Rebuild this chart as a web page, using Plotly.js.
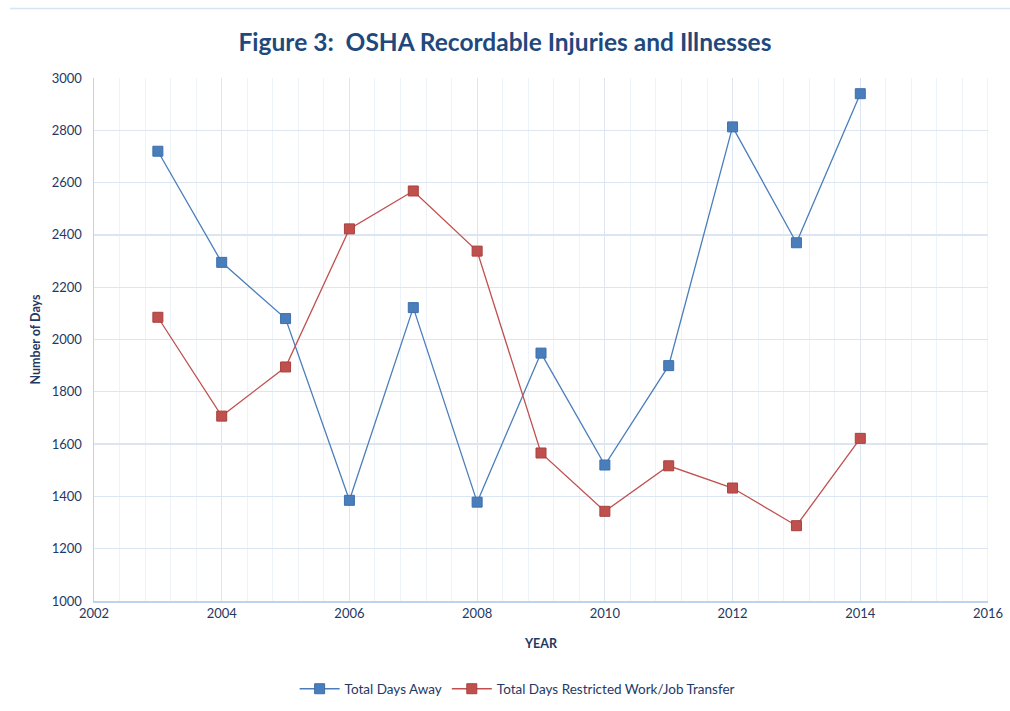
<!DOCTYPE html>
<html>
<head>
<meta charset="utf-8">
<script src="https://cdn.plot.ly/plotly-3.0.1.min.js"></script>
<style>html,body{margin:0;padding:0;background:#fff;}#chart{width:1010px;height:711px;}</style>
</head>
<body>
<div id="chart"></div>
<script>
const years = [2003, 2004, 2005, 2006, 2007, 2008, 2009, 2010, 2011, 2012, 2013, 2014];
const daysAway = [2720, 2295, 2080, 1385, 2122, 1378, 1948, 1520, 1900, 2813, 2370, 2940];
const daysRestricted = [2085, 1707, 1895, 2423, 2568, 2338, 1566, 1343, 1517, 1432, 1288, 1622];
const seriesNames = ["Total Days Away", "Total Days Restricted Work/Job Transfer"];

const navy = '#1f3864';
const font = "Lato, 'Open Sans', 'Liberation Sans', sans-serif";

const traces = [
  {x: years, y: daysAway, name: seriesNames[0], type: 'scatter', mode: 'lines+markers',
   line: {color: '#4a7ebb', width: 1.3},
   marker: {symbol: 'square', size: 10, color: '#4a7ebb', line: {color: '#3d6fae', width: 1}}},
  {x: years, y: daysRestricted, name: seriesNames[1], type: 'scatter', mode: 'lines+markers',
   line: {color: '#c0504d', width: 1.3},
   marker: {symbol: 'square', size: 10, color: '#c0504d', line: {color: '#a8403d', width: 1}}}
];

const layout = {
  width: 1010, height: 711,
  margin: {l: 94, r: 22, t: 78, b: 110},
  paper_bgcolor: '#fff', plot_bgcolor: '#fff',
  font: {family: font, color: navy, size: 13},
  title: {text: '<b>Figure 3:  OSHA Recordable Injuries and Illnesses</b>',
          font: {family: font, size: 24.5, color: '#1f497d'},
          x: 0.5, xanchor: 'center', y: 0.941, yanchor: 'middle'},
  xaxis: {range: [2002, 2016], dtick: 2, tick0: 2002, showgrid: true, automargin: false,
          gridcolor: '#dce6f2', gridwidth: 1,
          minor: {dtick: 0.4, tick0: 2002, showgrid: true, gridcolor: '#eef3fa', gridwidth: 1},
          showline: true, linecolor: '#bcd3ee', linewidth: 1.5, mirror: false,
          zeroline: false, ticks: '', tickfont: {size: 13, color: navy},
          title: {text: '<b>YEAR</b>', font: {size: 12.5, color: navy}, standoff: 19}},
  yaxis: {range: [1000, 3000], dtick: 200, showgrid: true, gridcolor: '#dce6f2', gridwidth: 1.3,
          showline: true, linecolor: '#bcd3ee', linewidth: 1.5, automargin: false,
          zeroline: false, ticks: '', ticklabelstandoff: 8, tickfont: {size: 13, color: navy},
          title: {text: '<b>Number of Days</b>', font: {size: 12.5, color: navy}, standoff: 8}},
  shapes: [
    {type: 'line', xref: 'x', yref: 'paper', x0: 2016, x1: 2016, y0: 0, y1: 1,
     line: {color: '#dce6f2', width: 1}}
  ],
  legend: {orientation: 'h', xref: 'container', yref: 'container',
           x: 0.512, xanchor: 'center', y: 0.031, yanchor: 'middle',
           font: {size: 13.5, color: navy}, itemwidth: 40, traceorder: 'normal'},
  showlegend: true
};

Plotly.newPlot('chart', traces, layout, {displayModeBar: false, staticPlot: true}).then(() => {
  const svg = document.querySelector('#chart .main-svg');
  const ns = 'http://www.w3.org/2000/svg';
  const l = document.createElementNS(ns, 'line');
  l.setAttribute('x1', 10); l.setAttribute('x2', 1010);
  l.setAttribute('y1', 8.5); l.setAttribute('y2', 8.5);
  l.setAttribute('stroke', '#d5e3f3'); l.setAttribute('stroke-width', 1.5);
  svg.appendChild(l);
});
</script>
</body>
</html>
